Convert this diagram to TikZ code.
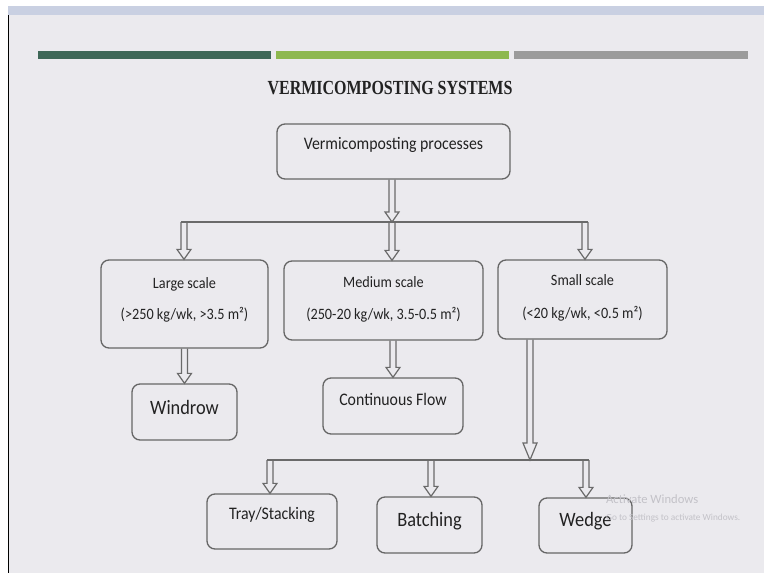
\documentclass[tikz,border=0pt]{standalone}
\usepackage{fontspec}
\setmainfont{Carlito}[FakeStretch=0.9]
\newfontfamily\titlefont{Liberation Serif}[FakeStretch=0.8]
\newfontfamily\ghostfont{Carlito}
\usetikzlibrary{calc}

\definecolor{slide}{HTML}{EBEAEE}
\definecolor{band}{HTML}{C9D0E2}
\definecolor{barA}{HTML}{3E6757}
\definecolor{barB}{HTML}{8DB84F}
\definecolor{barC}{HTML}{9B9B9B}
\definecolor{boxline}{HTML}{666666}
\definecolor{wire}{HTML}{6A6A6A}
\definecolor{ink}{HTML}{222222}
\definecolor{ghost}{HTML}{C3C2C8}

\begin{document}
\begin{tikzpicture}[x=1pt,y=-1pt,
                    box/.style={draw=boxline, line width=1.3pt, rounded corners=8pt, fill=slide, inner sep=0pt},
                    lbl/.style={text=ink, inner sep=0pt, anchor=base},
                    small/.style={font=\fontsize{15.8}{18}\selectfont},
                    mid/.style={font=\fontsize{17.6}{21}\selectfont},
                    big/.style={font=\fontsize{20.4}{24}\selectfont},
                    wire/.style={draw=wire, line width=1.6pt},
                    harrow/.style={draw=wire, line width=1.2pt, line join=miter,
                        to path={($(\tikztostart)+(-3pt,0pt)$) -- ($(\tikztotarget)+(-3pt,#1)$)
                                 -- ($(\tikztotarget)+(-7pt,#1)$) -- (\tikztotarget)
                                 -- ($(\tikztotarget)+(7pt,#1)$) -- ($(\tikztotarget)+(3pt,#1)$)
                                 -- ($(\tikztostart)+(3pt,0pt)$)}},
                    harrow/.default=10pt]

    \useasboundingbox (0,0) rectangle (764,573);
    \fill[white] (0,0) rectangle (764,573);
    \fill[band] (8,6) rectangle (764,15);
    \fill[slide] (9,15) rectangle (764,573);
    \draw[line width=1.5pt] (8.5,15) -- (8.5,573);

    \fill[barA] (38,51) rectangle (271,59);
    \fill[barB] (276,51) rectangle (509,59);
    \fill[barC] (514,51) rectangle (748,59);

    \node[text=ink, inner sep=0pt, anchor=base, font=\titlefont\bfseries\fontsize{20}{24}\selectfont] (title) at (390,94) {VERMICOMPOSTING SYSTEMS};

    % boxes
    \node[box, minimum width=233, minimum height=55] (top)    at (393.5,151.5) {};
    \node[box, minimum width=167, minimum height=88] (large)  at (184.5,304) {};
    \node[box, minimum width=199, minimum height=79] (medium) at (383.5,300.5) {};
    \node[box, minimum width=169, minimum height=79] (small)  at (582.5,299.5) {};
    \node[box, minimum width=105, minimum height=56] (windrow) at (184.5,412) {};
    \node[box, minimum width=140, minimum height=56] (cflow)  at (393,406) {};
    \node[box, minimum width=130, minimum height=55] (tray)   at (272,521.5) {};
    \node[box, minimum width=105, minimum height=56] (batch)  at (429.5,525) {};
    \node[box, minimum width=93,  minimum height=55] (wedge)  at (585.5,525.5) {};

    % labels
    \node[lbl, mid] (top-a) at (393.5,149) {Vermicomposting processes};
    \node[lbl, small] (large-a) at (184.5,288) {Large scale};
    \node[lbl, small] (large-b) at (184.5,319) {(>250 kg/wk, >3.5 m²)};
    \node[lbl, small] (medium-a) at (383.5,287) {Medium scale};
    \node[lbl, small] (medium-b) at (383.5,319) {(250-20 kg/wk, 3.5-0.5 m²)};
    \node[lbl, small] (small-a) at (582.5,285) {Small scale};
    \node[lbl, small] (small-b) at (582.5,318) {(<20 kg/wk, <0.5 m²)};
    \node[lbl, big] (windrow-a) at (184.5,414) {Windrow};
    \node[lbl, mid] (cflow-a) at (393,405) {Continuous Flow};
    \node[lbl, mid] (tray-a) at (272,519) {Tray/Stacking};
    \node[lbl, big] (batch-a) at (429.5,526) {Batching};
    \node[lbl, big] (wedge-a) at (585.5,526) {Wedge};

    % connectors
    \coordinate (split) at (392,222);
    \coordinate (lft) at (184,222);
    \coordinate (rgt) at (585,222);
    \coordinate (split2) at (530,460);
    \coordinate (lft2) at (270,460);
    \coordinate (mid2) at (431,460);
    \coordinate (rgt2) at (586,460);

    \draw[wire] ($(lft)+(-3,0)$) -- ($(rgt)+(3,0)$);
    \draw[wire] ($(lft2)+(-3,0)$) -- ($(rgt2)+(3,0)$);

    \path (split |- top.south)    edge[harrow] (split)
          (lft)                   edge[harrow] (lft |- large.north)
          (split)                 edge[harrow] (split |- medium.north)
          (rgt)                   edge[harrow] (rgt |- small.north)
          (large.south)           edge[harrow] (windrow.north)
          (cflow.north |- medium.south) edge[harrow] (cflow.north)
          (split2 |- small.south) edge[harrow=17pt] (split2)
          (lft2)                  edge[harrow] (lft2 |- tray.north)
          (mid2)                  edge[harrow] (mid2 |- batch.north)
          (rgt2)                  edge[harrow] (rgt2 |- wedge.north);

    \node[text=ghost, inner sep=0pt, anchor=base west, font=\ghostfont\fontsize{12.6}{15}\selectfont] (wm-a) at (606,503) {Activate Windows};
    \node[text=ghost, inner sep=0pt, anchor=base west, font=\ghostfont\fontsize{9.3}{11}\selectfont] (wm-b) at (606,520) {Go to Settings to activate Windows.};
\end{tikzpicture}
\end{document}
